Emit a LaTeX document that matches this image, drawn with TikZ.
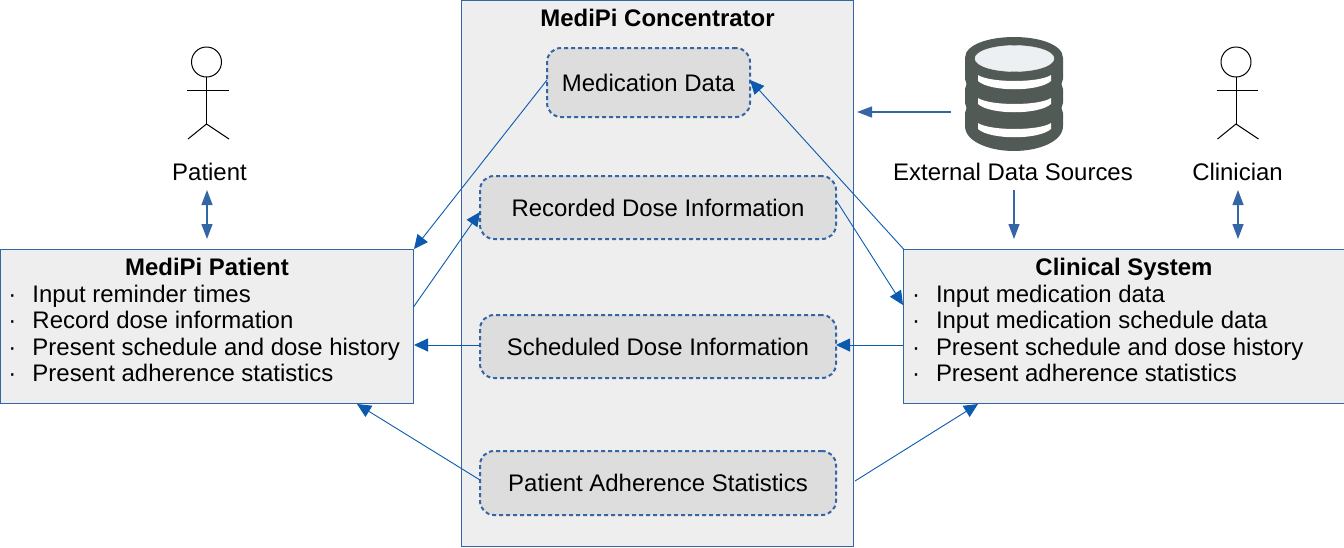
\documentclass[tikz,border=0pt]{standalone}
\usepackage{fontspec}
\setmainfont{Liberation Sans}
\usetikzlibrary{arrows.meta}
\definecolor{boxline}{HTML}{3465A4}
\definecolor{arrowblue}{HTML}{0B5AAE}
\definecolor{panel}{HTML}{EEEEEE}
\definecolor{itemfill}{HTML}{DDDDDD}
\definecolor{dbdark}{HTML}{515A55}
\definecolor{dbtop}{HTML}{ECF0F3}
\newcommand{\itm}[1]{\par\noindent\hspace*{8pt}\makebox[24pt][l]{·}#1}
\newcommand{\boxtext}[3]{\parbox[c][#1pt][t]{#2pt}{\fontsize{23.95}{26.5}\selectfont\vspace*{9pt}#3}}
\tikzset{
  every node/.style={font=\fontsize{23.95}{28}\selectfont,text=black},
  panelbox/.style={draw=boxline,fill=panel,line width=1pt,inner sep=0pt,outer sep=0pt,anchor=north west},
  itembox/.style={draw=boxline,fill=itemfill,line width=2pt,dash pattern=on 4pt off 3pt,rounded corners=14pt,inner sep=0pt,outer sep=0pt,anchor=north west},
  conn/.style={draw=arrowblue,line width=0.9pt,-{Triangle[length=14pt,width=13pt]}},
  pale/.style={draw=boxline,line width=1.3pt,-{Triangle[length=15pt,width=11pt]}},
  dbl/.style={draw=boxline,line width=1.3pt,{Triangle[length=15pt,width=11pt]}-{Triangle[length=15pt,width=11pt]}},
  actorline/.style={draw=black,line width=1pt},
}
\begin{document}
\begin{tikzpicture}[x=1pt,y=-1pt]
\useasboundingbox (0,0) rectangle (1344,547);
% panels
\node[panelbox,minimum width=392pt,minimum height=546pt] (conc) at (461.5,0.5) {};
\node[font=\fontsize{23.95}{28}\selectfont\bfseries] (conctitle) at (657.5,18) {MediPi Concentrator};
\node[panelbox,minimum width=413pt,minimum height=154pt] (pat) at (0.5,249.5)
  {\boxtext{154}{413}{{\centering\bfseries MediPi Patient\par}\itm{Input reminder times}\itm{Record dose information}\itm{Present schedule and dose history}\itm{Present adherence statistics}}};
\node[panelbox,minimum width=441pt,minimum height=154pt] (clin) at (903.5,249.5)
  {\boxtext{154}{440}{{\centering\bfseries Clinical System\par}\itm{Input medication data}\itm{Input medication schedule data}\itm{Present schedule and dose history}\itm{Present adherence statistics}}};
% items
\node[itembox,minimum width=203pt,minimum height=69pt] (med) at (547,48) {Medication Data};
\node[itembox,minimum width=356pt,minimum height=63pt] (rec) at (480,176) {Recorded Dose Information};
\node[itembox,minimum width=356pt,minimum height=63pt] (sch) at (480,315) {Scheduled Dose Information};
\node[itembox,minimum width=356pt,minimum height=64pt] (adh) at (480,451) {Patient Adherence Statistics};
% labels
\node (patlabel) at (209.5,172) {Patient};
\node (clinlabel) at (1237.5,172) {Clinician};
\node (extlabel) at (1013,172) {External Data Sources};
% actors
\foreach \cx/\nm in {206.5/a,1236/b}{
  \node[draw=black,line width=1pt,fill=white,circle,minimum size=30pt,inner sep=0pt,outer sep=0pt] (head\nm) at (\cx,62) {};
  \draw[actorline] (head\nm.south) -- ++(0,47) coordinate (hip\nm);
  \draw[actorline] (\cx-19.5,90) -- (\cx+22,90);
  \draw[actorline] (\cx-18.5,139) -- (hip\nm) -- (\cx+22.5,139);
}
% database icon
\fill[dbdark] (965,58) .. controls (965,44) and (990,37) .. (1014,37) .. controls (1038,37) and (1063,44) .. (1063,58)
  -- (1063,79) -- (1061.5,84) -- (1063,89) -- (1063,103) -- (1061.5,108) -- (1063,113)
  -- (1063,126) .. controls (1063,142) and (1038,151) .. (1014,151) .. controls (990,151) and (965,142) .. (965,126)
  -- (965,113) -- (966.5,108) -- (965,103) -- (965,89) -- (966.5,84) -- (965,79) -- cycle;
\fill[dbtop,draw=dbtop] (1014.5,58.5) ellipse [x radius=39.5,y radius=13];
\foreach \yy in {75,98,123}{
  \fill[white] (978,\yy) .. controls (990,\yy+8) and (1039,\yy+8) .. (1051,\yy) -- (1051,\yy+6)
    .. controls (1039,\yy+17) and (990,\yy+17) .. (978,\yy+6) -- cycle;
}
% free end points
\coordinate (medw) at (547,80);
\coordinate (patne) at (414,249);
\coordinate (patr) at (413.5,307);
\coordinate (recw) at (480,212);
\coordinate (rece) at (836,200);
\coordinate (clinr) at (903,305);
\coordinate (clinnw) at (903.5,249);
\coordinate (mede) at (750,80);
\coordinate (adhw) at (480,480);
\coordinate (patb) at (357,404);
\coordinate (adhe) at (855,481);
\coordinate (clinb) at (978,404);
\coordinate (dbw) at (951,112);
\coordinate (concr) at (857,112);
\coordinate (extb) at (1014,190);
\coordinate (clint) at (1014,239);
\coordinate (pa) at (207,190);
\coordinate (pb) at (207,239);
\coordinate (ca) at (1238,190);
\coordinate (cb) at (1238,239);
\coordinate (schw) at (480,345);
\coordinate (pats) at (414,345);
\coordinate (clins) at (903,345);
\coordinate (sche) at (836,345);
% connectors
\draw[conn] (medw) -- (patne);
\draw[conn] (patr) -- (recw);
\draw[conn] (rece) -- (clinr);
\draw[conn] (clinnw) -- (mede);
\draw[conn] (schw) -- (pats);
\draw[conn] (clins) -- (sche);
\draw[conn] (adhw) -- (patb);
\draw[conn] (adhe) -- (clinb);
\draw[pale] (dbw) -- (concr);
\draw[pale] (extb) -- (clint);
\draw[dbl] (pa) -- (pb);
\draw[dbl] (ca) -- (cb);
\end{tikzpicture}
\end{document}
